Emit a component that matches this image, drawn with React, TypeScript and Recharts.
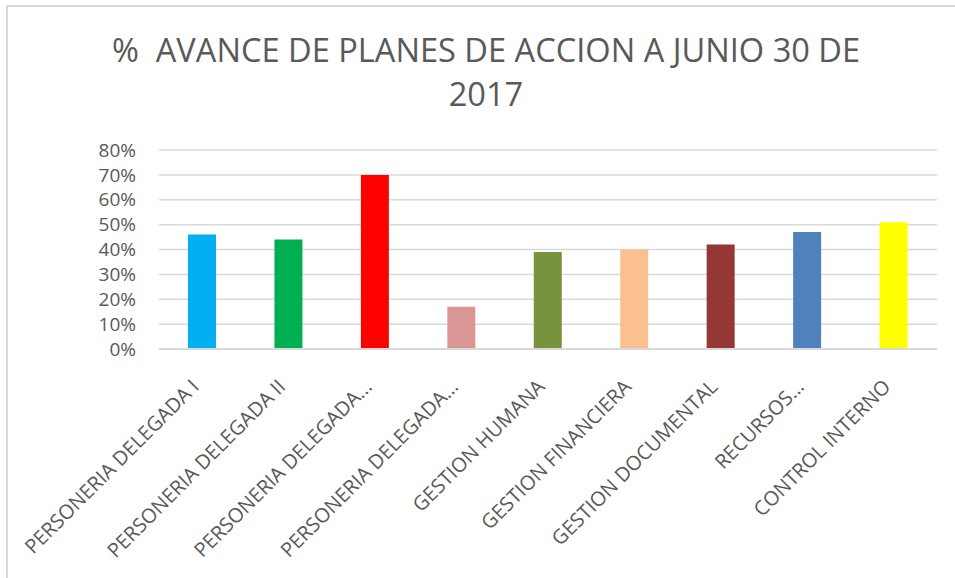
import React from "react"
import { BarChart, Bar, XAxis, YAxis, CartesianGrid, Cell } from "recharts"

const categories = [
  "PERSONERIA DELEGADA I",
  "PERSONERIA DELEGADA II",
  "PERSONERIA DELEGADA...",
  "PERSONERIA DELEGADA...",
  "GESTION HUMANA",
  "GESTION FINANCIERA",
  "GESTION DOCUMENTAL",
  "RECURSOS...",
  "CONTROL INTERNO",
]
const avance = [46, 44, 70, 17, 39, 40, 42, 47, 51]
const barColors = ["#00B0F0", "#00B050", "#FF0000", "#DA9694", "#77933C", "#FAC090", "#953735", "#4F81BD", "#FFFF00"]
const yTicks = [0, 10, 20, 30, 40, 50, 60, 70, 80]
const titleLines = ["%  AVANCE DE PLANES DE ACCION A JUNIO 30 DE", "2017"]

const data = categories.map((name, i) => ({ name: name + "#" + i, label: name, value: avance[i] }))

const FONT = "'Open Sans', sans-serif"
const GRAY = "#595959"

function XTick(props: any) {
  const { x, y, payload } = props
  const label = String(payload.value).split("#")[0]
  return (
    <g transform={`translate(${x - 2},${y + 37})`}>
      <text textAnchor="end" transform="rotate(-45)" fill={GRAY} fontSize={20} fontFamily={FONT}>
        {label}
      </text>
    </g>
  )
}

export default function App() {
  return (
    <div style={{ position: "absolute", left: 0, top: 0, width: 955, height: 578, overflow: "hidden", background: "#fff" }}>
      <div style={{ position: "absolute", left: 6, top: 5, width: 1000, height: 1000, border: "2px solid #d9d9d9" }} />
      <svg width={955} height={130} style={{ position: "absolute", left: 0, top: 0 }}>
        {titleLines.map((t, i) => (
          <text key={i} x={486} y={62 + i * 44} textAnchor="middle" fill={GRAY} fontSize={32.6} fontFamily={FONT} style={{ whiteSpace: "pre" }}>
            {t}
          </text>
        ))}
      </svg>
      <div style={{ position: "absolute", left: 0, top: 0 }}>
        <BarChart width={955} height={578} data={data} margin={{ top: 150, right: 18, left: 0, bottom: 0 }}>
          <CartesianGrid vertical={false} stroke="#d9d9d9" strokeWidth={1.5} />
          <XAxis
            dataKey="name"
            interval={0}
            height={229}
            tickLine={false}
            tickSize={0}
            axisLine={{ stroke: "#d9d9d9", strokeWidth: 2 }}
            tick={<XTick />}
          />
          <YAxis
            domain={[0, 80]}
            ticks={yTicks}
            interval={0}
            width={159}
            tickLine={false}
            axisLine={false}
            tickSize={0}
            tickMargin={23}
            tickFormatter={(v: number) => `${v}%`}
            tick={{ fill: GRAY, fontSize: 19, fontFamily: FONT }}
          />
          <Bar dataKey="value" barSize={28} isAnimationActive={false}>
            {data.map((d, i) => (
              <Cell key={i} fill={barColors[i]} />
            ))}
          </Bar>
        </BarChart>
      </div>
    </div>
  )
}
